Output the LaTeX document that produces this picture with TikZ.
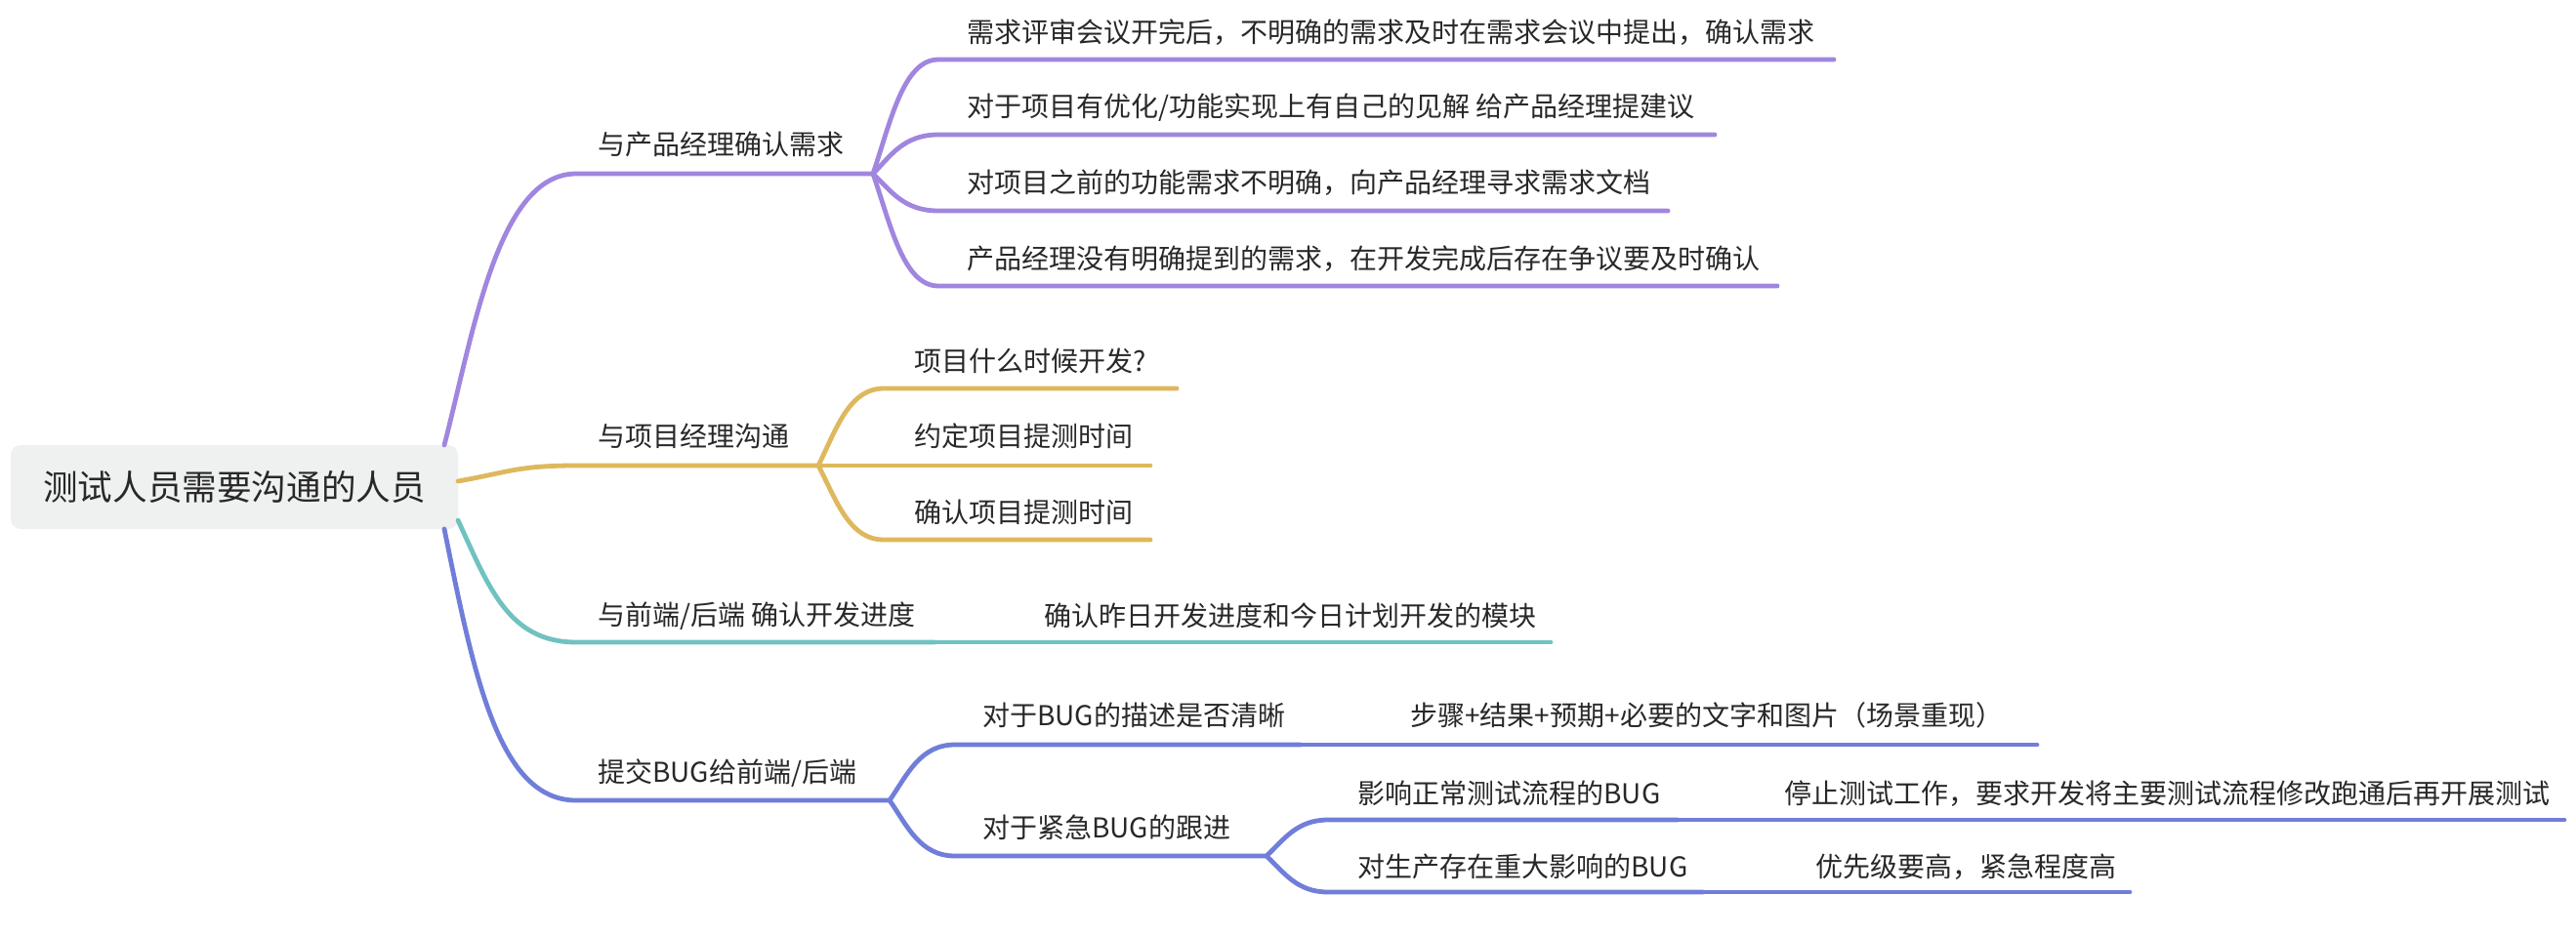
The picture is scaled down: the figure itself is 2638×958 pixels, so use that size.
\documentclass[tikz,border=0pt]{standalone}
\usepackage{fontspec}
\setmainfont{Noto Sans CJK SC}
\definecolor{cpur}{RGB}{160,134,222}
\definecolor{cyel}{RGB}{222,184,92}
\definecolor{ctea}{RGB}{112,194,192}
\definecolor{cblu}{RGB}{112,126,218}
\definecolor{rootbg}{RGB}{239,241,240}
\definecolor{txt}{RGB}{40,40,40}
\begin{document}
\begin{tikzpicture}[x=0.5pt,y=-0.5pt,
  lbl/.style={anchor=west,inner sep=0pt,text=txt,font=\fontsize{14pt}{16pt}\selectfont},
  br/.style={line width=2.4pt,line cap=round,line join=round}]
\useasboundingbox (0,0) rectangle (2638,958);
% root
\node[fill=rootbg,rounded corners=5pt,minimum width=229pt,minimum height=43pt,inner sep=0pt,text=txt,
  font=\fontsize{17.8pt}{20pt}\selectfont] (root) at (240,499) {测试人员需要沟通的人员};
\coordinate (rp) at (455,456);
\coordinate (ry) at (469,493);
\coordinate (rt) at (469,533);
\coordinate (rb) at (455,542);
% ---------- purple
\node[lbl] (p) at (612,148) {与产品经理确认需求};
\coordinate (pj) at (894,178);
\draw[br,cpur] (rp) .. controls (485,340) and (510,178) .. (590,178) -- (pj);
\node[lbl] (p1) at (990,33) {需求评审会议开完后，不明确的需求及时在需求会议中提出，确认需求};
\node[lbl] (p2) at (990,110) {对于项目有优化/功能实现上有自己的见解 给产品经理提建议};
\node[lbl] (p3) at (990,187) {对项目之前的功能需求不明确，向产品经理寻求需求文档};
\node[lbl] (p4) at (990,265) {产品经理没有明确提到的需求，在开发完成后存在争议要及时确认};
\coordinate (p1s) at (961,61);  \coordinate (p1e) at (1878,61);
\coordinate (p2s) at (961,138); \coordinate (p2e) at (1756,138);
\coordinate (p3s) at (961,216); \coordinate (p3e) at (1708,216);
\coordinate (p4s) at (961,293); \coordinate (p4e) at (1820,293);
\draw[br,cpur] (pj) .. controls (912,125) and (925,61) .. (p1s) -- (p1e);
\draw[br,cpur] (pj) .. controls (912,160) and (925,138) .. (p2s) -- (p2e);
\draw[br,cpur] (pj) .. controls (912,195) and (925,216) .. (p3s) -- (p3e);
\draw[br,cpur] (pj) .. controls (912,230) and (925,293) .. (p4s) -- (p4e);
% ---------- yellow
\node[lbl] (y) at (612,447) {与项目经理沟通};
\coordinate (yj) at (838,477);
\draw[br,cyel] (ry) .. controls (520,484) and (530,477) .. (590,477) -- (yj);
\node[lbl] (y1) at (936,370) {项目什么时候开发?};
\node[lbl] (y2) at (936,447) {约定项目提测时间};
\node[lbl] (y3) at (936,525) {确认项目提测时间};
\coordinate (y1s) at (905,398); \coordinate (y1e) at (1205,398);
\coordinate (y2s) at (905,477); \coordinate (y2e) at (1178,477);
\coordinate (y3s) at (905,553); \coordinate (y3e) at (1178,553);
\draw[br,cyel] (yj) .. controls (856,441) and (869,398) .. (y1s) -- (y1e);
\draw[br,cyel] (yj) -- (y2s) -- (y2e);
\draw[br,cyel] (yj) .. controls (856,511) and (869,553) .. (y3s) -- (y3e);
% ---------- teal
\node[lbl] (t) at (612,631) {与前端/后端 确认开发进度};
\coordinate (tj) at (957,658);
\draw[br,ctea] (rt) .. controls (500,600) and (520,658) .. (590,658) -- (tj);
\node[lbl] (t1) at (1069,631) {确认昨日开发进度和今日计划开发的模块};
\coordinate (t1s) at (1040,658); \coordinate (t1e) at (1588,658);
\draw[br,ctea] (tj) -- (t1s) -- (t1e);
% ---------- blue
\node[lbl] (b) at (612,792) {提交BUG给前端/后端};
\coordinate (bj) at (911,820);
\draw[br,cblu] (rb) .. controls (485,690) and (510,820) .. (590,820) -- (bj);
\node[lbl] (b1) at (1006,733) {对于BUG的描述是否清晰};
\node[lbl] (b2) at (1006,848) {对于紧急BUG的跟进};
\coordinate (b1s) at (978,763); \coordinate (b1j) at (1332,763);
\coordinate (b2s) at (978,877); \coordinate (b2j) at (1297,877);
\draw[br,cblu] (bj) .. controls (929,794) and (942,763) .. (b1s) -- (b1j);
\draw[br,cblu] (bj) .. controls (929,846) and (942,877) .. (b2s) -- (b2j);
\node[lbl] (b11) at (1444,733) {步骤+结果+预期+必要的文字和图片（场景重现）};
\coordinate (b11s) at (1415,763); \coordinate (b11e) at (2086,763);
\draw[br,cblu] (b1j) -- (b11s) -- (b11e);
\node[lbl] (b21) at (1390,813) {影响正常测试流程的BUG};
\node[lbl] (b22) at (1390,888) {对生产存在重大影响的BUG};
\coordinate (b21s) at (1360,840); \coordinate (b21j) at (1718,840);
\coordinate (b22s) at (1360,914); \coordinate (b22j) at (1744,914);
\draw[br,cblu] (b2j) .. controls (1315,860) and (1328,840) .. (b21s) -- (b21j);
\draw[br,cblu] (b2j) .. controls (1315,894) and (1328,914) .. (b22s) -- (b22j);
\node[lbl] (b211) at (1827,813) {停止测试工作，要求开发将主要测试流程修改跑通后再开展测试};
\node[lbl] (b221) at (1859,888) {优先级要高，紧急程度高};
\coordinate (b211s) at (1798,840); \coordinate (b211e) at (2626,840);
\coordinate (b221s) at (1830,914); \coordinate (b221e) at (2181,914);
\draw[br,cblu] (b21j) -- (b211s) -- (b211e);
\draw[br,cblu] (b22j) -- (b221s) -- (b221e);
\end{tikzpicture}
\end{document}
